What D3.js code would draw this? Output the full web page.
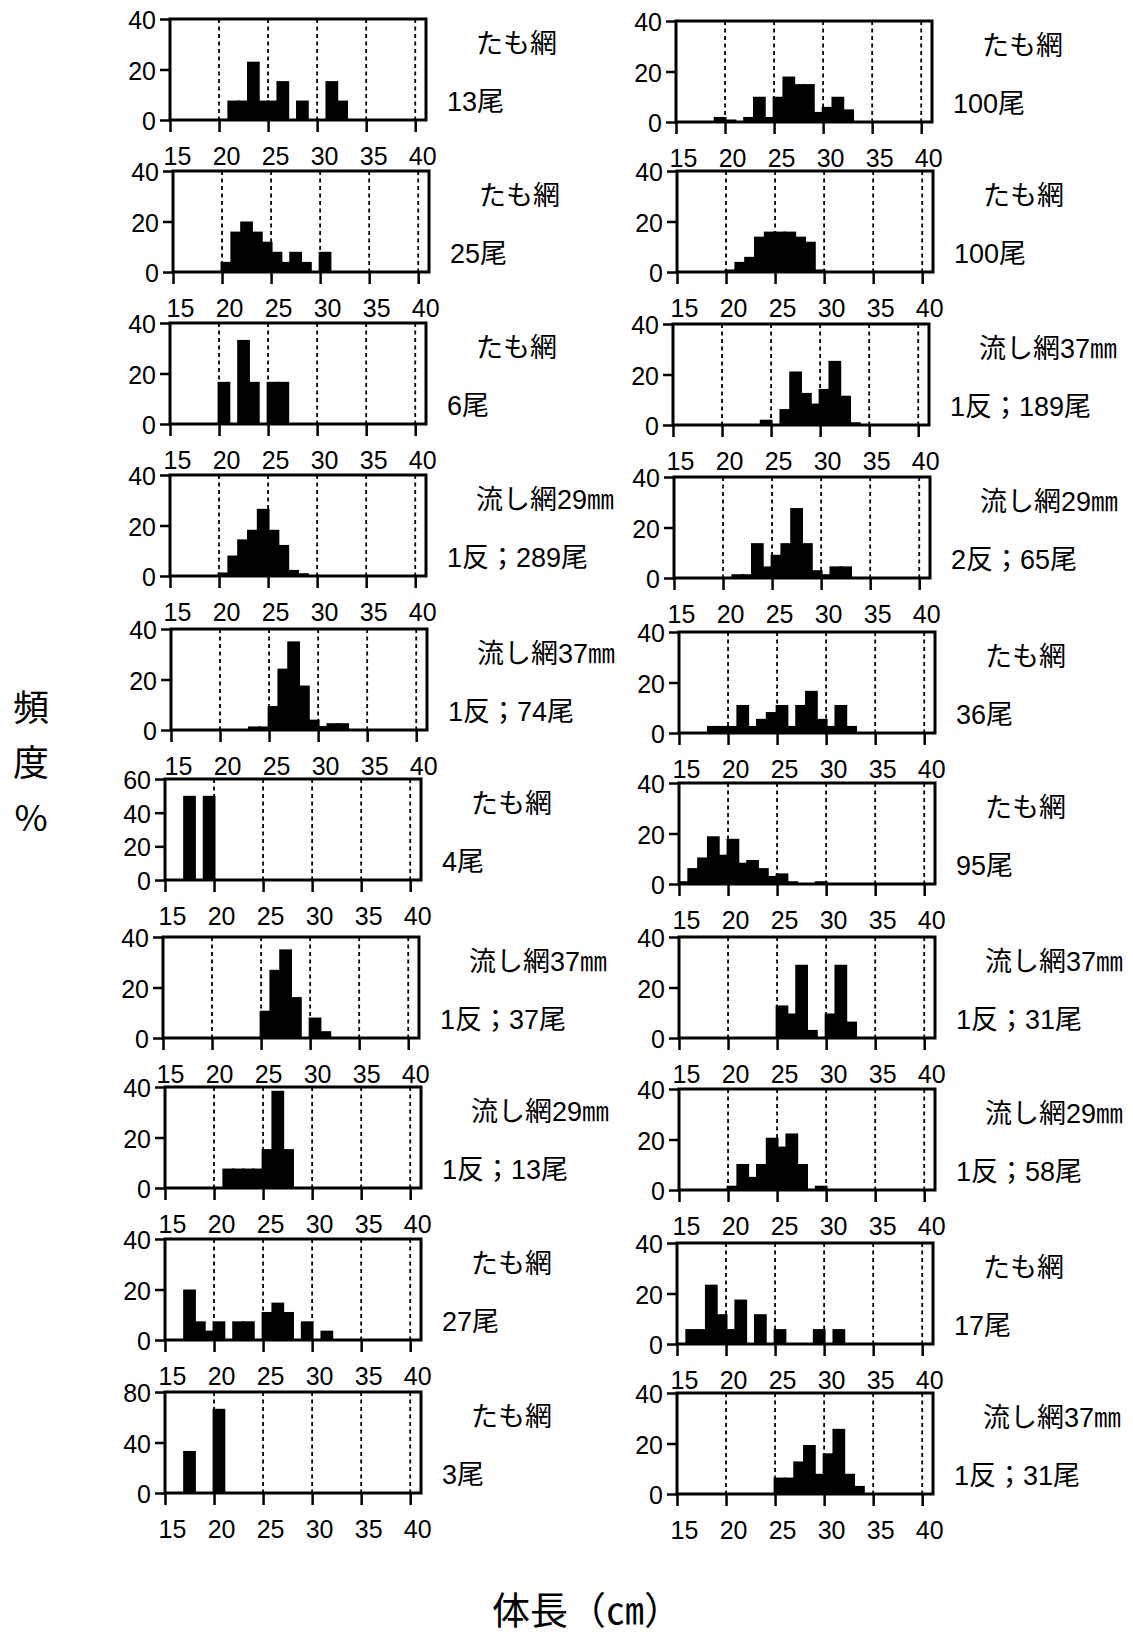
<!DOCTYPE html>
<html><head><meta charset="utf-8">
<script src="https://cdn.jsdelivr.net/npm/d3@7"></script>
<style>body{margin:0;background:#fff}</style>
</head><body>
<svg id="c" width="1133" height="1638"></svg>
<script>
// ---- DATA: frequency (%) per 1-cm body-length bin, [bin start (cm), %] ----
const L1 = [[21,7.7],[22,7.7],[23,23.1],[24,7.7],[25,7.7],[26,15.4],[28,7.7],[31,15.4],[32,7.7]];
const L2 = [[20,4],[21,16],[22,20],[23,16],[24,12],[25,8],[26,4],[27,8],[28,4],[30,8]];
const L3 = [[20,16.7],[22,33.3],[23,16.7],[25,16.7],[26,16.7]];
const L4 = [[20,1.4],[21,8.1],[22,14.5],[23,18.3],[24,26.6],[25,18.3],[26,12.3],[27,2.4],[28,1.1]];
const L5 = [[23,1.4],[24,1.4],[25,9.5],[26,24.3],[27,35.1],[28,17.6],[29,4.1],[30,1.6],[31,2.7],[32,2.7]];
const L6 = [[17,50],[19,50]];
const L7 = [[25,10.8],[26,27.0],[27,35.1],[28,16.2],[30,8.1],[31,2.7]];
const L8 = [[21,7.7],[22,7.7],[23,7.7],[24,7.7],[25,15.4],[26,38.5],[27,15.4]];
const L9 = [[17,20],[18,7.4],[19,3.7],[20,7.4],[22,7.4],[23,7.4],[25,11.1],[26,14.8],[27,11.1],[29,7.4],[31,3.7]];
const L10 = [[17,33.3],[20,66.7]];

const R1 = [[19,2],[20,1],[22,2],[23,10],[24,2],[25,10],[26,18],[27,15],[28,15],[29,4],[30,6],[31,10],[32,5]];
const R2 = [[20,1],[21,4],[22,6],[23,14],[24,16],[25,16],[26,16],[27,14],[28,12],[29,1]];
const R3 = [[24,2.1],[26,6.3],[27,21.2],[28,12.7],[29,8.5],[30,14.3],[31,25.4],[32,11.6],[33,1.1]];
const R4 = [[21,1.5],[22,1.5],[23,13.8],[24,4.6],[25,9.2],[26,13.8],[27,27.7],[28,13.8],[29,3.1],[30,1.5],[31,4.6],[32,4.6]];
const R5 = [[18,2.8],[19,2.8],[20,2.8],[21,11.1],[22,2.8],[23,5.6],[24,8.3],[25,11.1],[26,2.8],[27,11.1],[28,16.7],[29,5.6],[30,2.8],[31,11.1],[32,2.8]];
const R6 = [[15,1.1],[16,6.3],[17,10.5],[18,18.9],[19,11.6],[20,17.9],[21,8.4],[22,9.5],[23,6.3],[24,3.2],[25,4.2],[26,1.1],[29,1.1]];
const R7 = [[25,12.9],[26,9.7],[27,29.0],[28,3.2],[30,9.7],[31,29.0],[32,6.5]];
const R8 = [[20,1.7],[21,10.3],[22,5.2],[23,10.3],[24,20.7],[25,17.2],[26,22.4],[27,10.3],[29,1.7]];
const R9 = [[16,5.9],[17,5.9],[18,23.5],[19,11.8],[20,5.9],[21,17.6],[23,11.8],[25,5.9],[29,5.9],[31,5.9]];
const R10 = [[25,6.5],[26,6.5],[27,12.9],[28,19.4],[29,8],[30,16.1],[31,25.8],[32,8],[33,3.2]];

const gearLabels = ["たも網","たも網","たも網","流し網29㎜","流し網37㎜","たも網","流し網37㎜","流し網29㎜","たも網","たも網",
                    "たも網","たも網","流し網37㎜","流し網29㎜","たも網","たも網","流し網37㎜","流し網29㎜","たも網","流し網37㎜"];
const countLabels = ["13尾","25尾","6尾","1反；289尾","1反；74尾","4尾","1反；37尾","1反；13尾","27尾","3尾",
                     "100尾","100尾","1反；189尾","2反；65尾","36尾","95尾","1反；31尾","1反；58尾","17尾","1反；31尾"];
const yMaxes = [40,40,40,40,40,60,40,40,40,80, 40,40,40,40,40,40,40,40,40,40];
const xTickValues = [15,20,25,30,35,40];
const gridValues = [20,25,30,35,40];
const yTitle = ["頻","度","%"];
const xTitle = "体長（㎝）";

const panels = [L1,L2,L3,L4,L5,L6,L7,L8,L9,L10,R1,R2,R3,R4,R5,R6,R7,R8,R9,R10];

// ---- LAYOUT ----
const pos = [[170,19],[173,171],[170,323],[170,475],[171,629],[165,779],[163,937],[165,1087],[165,1239],[165,1392],
             [676,21],[677,171],[673,324],[674,477],[679,632],[679,783],[679,937],[679,1089],[677,1243],[677,1393]];
const W = 256, H = 101, BW = 1.3;
const FONT = '"Liberation Sans", Arial, "Noto Sans CJK JP", sans-serif';
const CJK = '"Liberation Sans", "Noto Sans CJK JP", sans-serif';

const svg = d3.select('#c');

panels.forEach((data, i) => {
  const [px, py] = pos[i];
  const g = svg.append('g').attr('transform', `translate(${px},${py})`);
  const x = d3.scaleLinear().domain([15, 41.1]).range([0, W]);
  const ymax = yMaxes[i];
  const y = d3.scaleLinear().domain([0, ymax]).range([H, 0]);
  const yTicks = ymax === 60 ? [0,20,40,60] : ymax === 80 ? [0,40,80] : [0,20,40];

  g.selectAll('line.grid').data(gridValues).join('line')
    .attr('class','grid')
    .attr('x1', d => x(d)).attr('x2', d => x(d))
    .attr('y1', 0).attr('y2', H)
    .attr('stroke', '#000').attr('stroke-width', 1.8).attr('stroke-dasharray', '4,3.5');

  g.selectAll('rect.bar').data(data).join('rect')
    .attr('class','bar')
    .attr('x', d => x(Math.max(15, d[0] + 0.5 - BW/2)))
    .attr('width', d => x(d[0] + 0.5 + BW/2) - x(Math.max(15, d[0] + 0.5 - BW/2)))
    .attr('y', d => y(d[1]))
    .attr('height', d => H - y(d[1]))
    .attr('fill', '#000');

  g.append('rect').attr('width', W).attr('height', H)
    .attr('fill', 'none').attr('stroke', '#000').attr('stroke-width', 3);

  const xa = g.append('g').attr('transform', `translate(0,${H})`)
    .call(d3.axisBottom(x).tickValues(xTickValues).tickSize(12).tickFormat(d3.format('d')));
  xa.select('.domain').remove();
  xa.selectAll('line').attr('stroke', '#000').attr('stroke-width', 2.5);
  xa.selectAll('text').attr('y', 36).attr('dy', '0.35em').attr('dx', 7)
    .attr('fill', '#000').style('font-family', FONT).style('font-size', '25px');

  const ya = g.append('g')
    .call(d3.axisLeft(y).tickValues(yTicks).tickSize(10).tickFormat(d3.format('d')));
  ya.select('.domain').remove();
  ya.selectAll('line').attr('stroke', '#000').attr('stroke-width', 2.5);
  ya.selectAll('text').attr('x', -14).attr('dy', '0.38em')
    .attr('fill', '#000').style('font-family', FONT).style('font-size', '25px');

  g.append('text').attr('x', W + 50).attr('y', 24).attr('dy', '0.36em')
    .style('font-family', CJK).style('font-size', '27px').attr('fill', '#000')
    .text(gearLabels[i]);
  g.append('text').attr('x', W + 21).attr('y', 82).attr('dy', '0.36em')
    .style('font-family', CJK).style('font-size', '27px').attr('fill', '#000')
    .text(countLabels[i]);
});

svg.selectAll('text.ytitle').data(yTitle).join('text')
  .attr('class','ytitle')
  .attr('x', 31).attr('y', (d, k) => 708 + k * 55).attr('dy', '0.36em')
  .attr('text-anchor', 'middle')
  .style('font-family', '"Noto Sans CJK JP", sans-serif').style('font-size', '36px')
  .text(d => d);

svg.append('text').attr('x', 587).attr('y', 1610).attr('dy', '0.36em')
  .attr('text-anchor', 'middle')
  .style('font-family', '"Noto Sans CJK JP", sans-serif').style('font-size', '38px')
  .text(xTitle);
</script>
</body></html>
